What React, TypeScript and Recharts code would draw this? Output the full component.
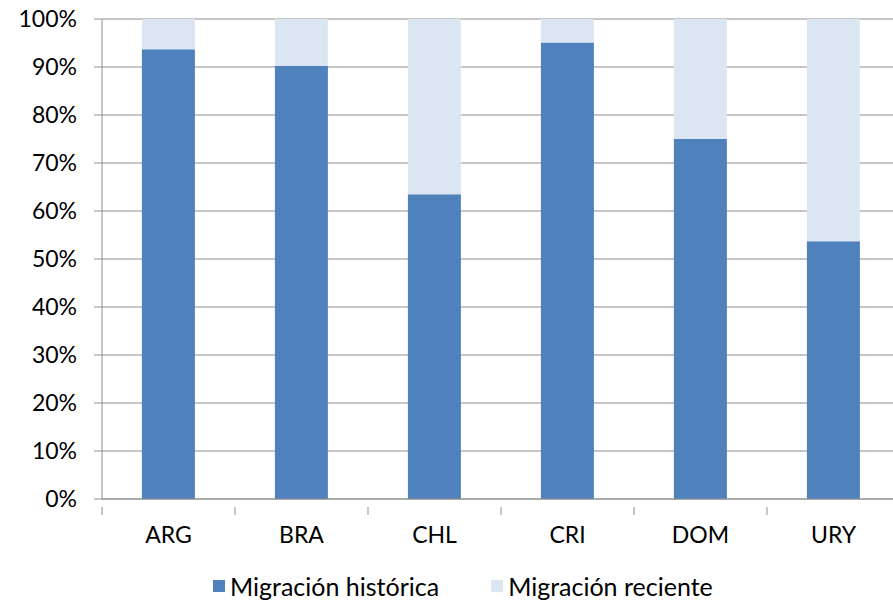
import { BarChart, Bar, XAxis, YAxis, CartesianGrid } from "recharts"

const countries = ["ARG", "BRA", "CHL", "CRI", "DOM", "URY"]
const historica = [93.7, 90.2, 63.5, 95.1, 75.0, 53.7]
const reciente = [6.3, 9.8, 36.5, 4.9, 25.0, 46.3]
const yTicks = [0, 10, 20, 30, 40, 50, 60, 70, 80, 90, 100]

const DARK = "#4F81BD"
const LIGHT = "#DCE6F2"
const GRID = "#8E8E8E"
const FONT = "Lato, 'Open Sans', sans-serif"

const data = countries.map((c, i) => ({ pais: c, historica: historica[i], reciente: reciente[i] }))

// category ticks sit between the bars (Excel style), so the tick mark is drawn half a band to the left
function CategoryTick(props: any) {
  const { x, y, payload } = props
  const half = 66.5
  return (
    <g>
      <line x1={x - half} x2={x - half} y1={y} y2={y + 8} stroke={GRID} />
      <text x={x} y={y + 28} dy="0.355em" textAnchor="middle" fontSize={23} fontFamily={FONT} fill="#000">
        {payload.value}
      </text>
    </g>
  )
}

export default function App() {
  return (
    <div style={{ position: "absolute", left: 0, top: 0, width: 893, height: 601, overflow: "hidden", background: "#fff" }}>
      <BarChart
        width={900}
        height={601}
        data={data}
        margin={{ top: 19, right: 0, left: 0, bottom: 0 }}
        barCategoryGap="30%"
      >
        <CartesianGrid vertical={false} stroke={GRID} />
        <XAxis
          dataKey="pais"
          height={102}
          axisLine={{ stroke: GRID }}
          tickLine={false}
          tick={<CategoryTick />}
          interval={0}
        />
        <YAxis
          width={102}
          domain={[0, 100]}
          ticks={yTicks}
          interval={0}
          tickFormatter={(v) => `${v}%`}
          axisLine={{ stroke: GRID }}
          tickLine={{ stroke: GRID }}
          tickSize={8}
          tickMargin={17}
          tick={{ fontSize: 23, fontFamily: FONT, fill: "#000" }}
        />
        <Bar dataKey="historica" name="Migración histórica" stackId="a" fill={DARK} isAnimationActive={false} />
        <Bar dataKey="reciente" name="Migración reciente" stackId="a" fill={LIGHT} isAnimationActive={false} />
      </BarChart>
      <div
        style={{
          position: "absolute",
          left: 213,
          top: 571,
          display: "flex",
          alignItems: "center",
          fontFamily: FONT,
          fontSize: 25,
          color: "#000",
          whiteSpace: "nowrap",
        }}
      >
        <span style={{ width: 12, height: 12, background: DARK, display: "inline-block", marginRight: 5 }} />
        <span>Migración histórica</span>
        <span style={{ width: 12, height: 12, background: LIGHT, display: "inline-block", marginLeft: 52, marginRight: 5 }} />
        <span>Migración reciente</span>
      </div>
    </div>
  )
}
